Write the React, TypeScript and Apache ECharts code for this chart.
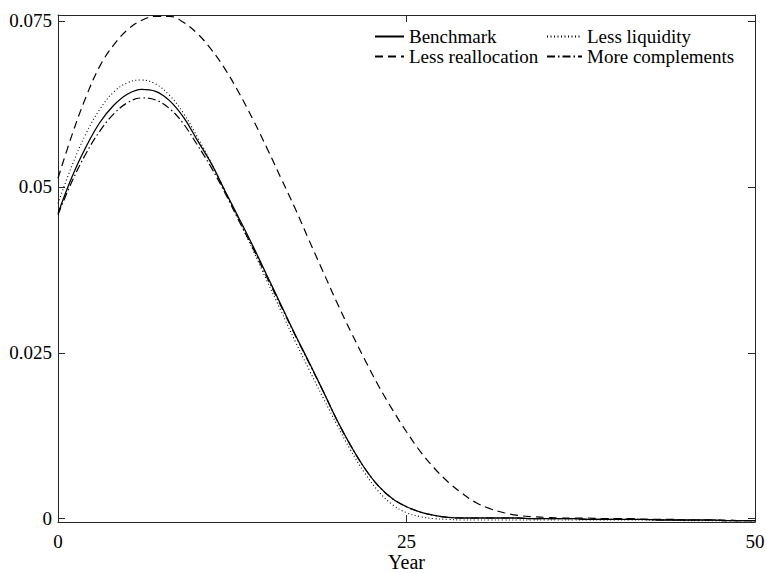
import React, { useEffect, useRef } from "react";
import * as echarts from "echarts";

const years = [
  0, 1, 2, 3, 4, 5, 6, 7, 8, 9, 10, 11, 12, 13, 14, 15, 16, 17, 18, 19, 20, 21, 22, 23, 24, 25,
  26, 27, 28, 29, 30, 31, 32, 33, 34, 35, 36, 37, 38, 39, 40, 41, 42, 43, 44, 45, 46, 47, 48, 49, 50,
];

const benchmark = [
  0.046, 0.0515, 0.056, 0.0597, 0.0623, 0.064, 0.0647, 0.0644, 0.063, 0.0605, 0.057, 0.0535, 0.0493,
  0.0452, 0.041, 0.0366, 0.0322, 0.0278, 0.0236, 0.0193, 0.0149, 0.011, 0.0076, 0.0049, 0.003, 0.0018,
  0.001, 0.0005, 0.0002, 0.0001, 0.0001, 0.0001, 0.0001, 0.0001, 0.0, 0.0, 0.0, 0.0, -0.0001, -0.0001,
  -0.0001, -0.0001, -0.0001, -0.0002, -0.0002, -0.0002, -0.0002, -0.0002, -0.0003, -0.0003, -0.0003,
];

const lessLiquidity = [
  0.0475, 0.0532, 0.058, 0.0617, 0.0643, 0.0657, 0.0661, 0.0655, 0.0638, 0.0611, 0.0575, 0.0536,
  0.0493, 0.0449, 0.0404, 0.0358, 0.0313, 0.0268, 0.0225, 0.0183, 0.0142, 0.0103, 0.0069, 0.0041,
  0.0021, 0.0009, 0.0003, 0.0, -0.0001, -0.0002, -0.0002, -0.0002, -0.0002, -0.0002, -0.0002, -0.0002,
  -0.0002, -0.0002, -0.0002, -0.0002, -0.0002, -0.0002, -0.0002, -0.0002, -0.0002, -0.0003, -0.0003,
  -0.0003, -0.0003, -0.0003, -0.0003,
];

const lessReallocation = [
  0.0513, 0.0578, 0.0635, 0.0682, 0.0714, 0.0737, 0.0751, 0.0757, 0.0757, 0.0748, 0.0731, 0.0707,
  0.0677, 0.0641, 0.0601, 0.0558, 0.0513, 0.0468, 0.042, 0.0373, 0.0326, 0.0282, 0.024, 0.02, 0.0164,
  0.0131, 0.0101, 0.0076, 0.0055, 0.0038, 0.0024, 0.0015, 0.0009, 0.0005, 0.0003, 0.0002, 0.0001,
  0.0001, 0.0001, 0.0, 0.0, 0.0, -0.0001, -0.0001, -0.0001, -0.0002, -0.0002, -0.0002, -0.0002,
  -0.0003, -0.0003,
];

const moreComplements = [
  0.0458, 0.0508, 0.055, 0.0584, 0.061, 0.0627, 0.0634, 0.0631, 0.0618, 0.0595, 0.0563, 0.0529,
  0.049, 0.0448, 0.0407, 0.0363, 0.032, 0.0277, 0.0235, 0.0193, 0.0149, 0.011, 0.0076, 0.0049, 0.003,
  0.0018, 0.001, 0.0005, 0.0002, 0.0001, 0.0001, 0.0001, 0.0001, 0.0001, 0.0, 0.0, 0.0, 0.0, -0.0001,
  -0.0001, -0.0001, -0.0001, -0.0001, -0.0002, -0.0002, -0.0002, -0.0002, -0.0002, -0.0003, -0.0003,
  -0.0003,
];

const xTicks = [0, 25, 50];
const yTicks = [0, 0.025, 0.05, 0.075];

const FONT = "Liberation Serif";
const AXIS_COLOR = "#262626";

export default function App() {
  const ref = useRef<HTMLDivElement>(null);

  useEffect(() => {
    if (!ref.current) return;
    const chart = echarts.init(ref.current, undefined, { renderer: "svg" });

    const mk = (arr: number[]) => years.map((t, i) => [t, arr[i]]);

    const legendBase = {
      orient: "horizontal" as const,
      itemGap: 0,
      itemHeight: 12,
      padding: 0,
      selectedMode: false,
      itemStyle: { opacity: 0, borderWidth: 0, color: "transparent" },
      textStyle: { fontFamily: FONT, fontSize: 19, color: "#000" },
    };

    const axisLineStyle = { color: AXIS_COLOR, width: 1 };

    chart.setOption({
      animation: false,
      backgroundColor: "#fff",
      grid: {
        left: 58,
        right: 12,
        top: 15,
        bottom: 51,
        containLabel: false,
        outerBoundsMode: "none",
      },
      legend: [
        { ...legendBase, data: ["Benchmark"], left: 374, top: 27, itemWidth: 29 },
        { ...legendBase, data: ["Less liquidity"], left: 546, top: 27, itemWidth: 35 },
        { ...legendBase, data: ["Less reallocation"], left: 374, top: 47, itemWidth: 29 },
        { ...legendBase, data: ["More complements"], left: 546, top: 47, itemWidth: 35 },
      ],
      xAxis: [
        {
          type: "value",
          min: 0,
          max: 50,
          position: "bottom",
          name: "Year",
          nameLocation: "middle",
          nameGap: 40,
          nameMoveOverlap: false,
          nameTextStyle: {
            fontFamily: FONT,
            fontSize: 20,
            lineHeight: 20,
            color: "#000",
            verticalAlign: "middle",
          },
          axisLine: { show: true, onZero: false, lineStyle: axisLineStyle },
          axisTick: { show: true, inside: true, length: 7, customValues: xTicks, lineStyle: axisLineStyle },
          axisLabel: {
            show: true,
            customValues: xTicks,
            margin: 10,
            fontFamily: FONT,
            fontSize: 19,
            color: "#000",
          },
          splitLine: { show: false },
        },
        {
          type: "value",
          min: 0,
          max: 50,
          position: "top",
          axisLine: { show: true, onZero: false, lineStyle: axisLineStyle },
          axisTick: { show: true, inside: true, length: 7, customValues: xTicks, lineStyle: axisLineStyle },
          axisLabel: { show: false },
          splitLine: { show: false },
        },
      ],
      yAxis: [
        {
          type: "value",
          min: -0.0005,
          max: 0.0759,
          position: "left",
          axisLine: { show: true, onZero: false, lineStyle: axisLineStyle },
          axisTick: { show: true, inside: true, length: 7, customValues: yTicks, lineStyle: axisLineStyle },
          axisLabel: {
            show: true,
            customValues: yTicks,
            margin: 6,
            fontFamily: FONT,
            fontSize: 19,
            color: "#000",
            formatter: (v: number) => (v === 0 ? "0" : String(v)),
          },
          splitLine: { show: false },
        },
        {
          type: "value",
          min: -0.0005,
          max: 0.0759,
          position: "right",
          axisLine: { show: true, onZero: false, lineStyle: axisLineStyle },
          axisTick: { show: true, inside: true, length: 7, customValues: yTicks, lineStyle: axisLineStyle },
          axisLabel: { show: false },
          splitLine: { show: false },
        },
      ],
      series: [
        {
          name: "Benchmark",
          type: "line",
          data: mk(benchmark),
          showSymbol: false,
          symbol: "none",
          smooth: 0.4,
          lineStyle: { color: "#000", width: 1.3, type: "solid" },
          itemStyle: { color: "#000" },
        },
        {
          name: "Less liquidity",
          type: "line",
          data: mk(lessLiquidity),
          showSymbol: false,
          symbol: "none",
          smooth: 0.4,
          lineStyle: { color: "#000", width: 1.1, type: [1, 2.5] },
          itemStyle: { color: "#000" },
        },
        {
          name: "Less reallocation",
          type: "line",
          data: mk(lessReallocation),
          showSymbol: false,
          symbol: "none",
          smooth: 0.4,
          lineStyle: { color: "#000", width: 1.2, type: [8, 5] },
          itemStyle: { color: "#000" },
        },
        {
          name: "More complements",
          type: "line",
          data: mk(moreComplements),
          showSymbol: false,
          symbol: "none",
          smooth: 0.4,
          lineStyle: { color: "#000", width: 1.2, type: [8, 3, 1.5, 3] },
          itemStyle: { color: "#000" },
        },
      ],
    });

    return () => chart.dispose();
  }, []);

  return (
    <div
      ref={ref}
      style={{ position: "absolute", left: 0, top: 0, width: 767, height: 573, background: "#fff" }}
    />
  );
}
